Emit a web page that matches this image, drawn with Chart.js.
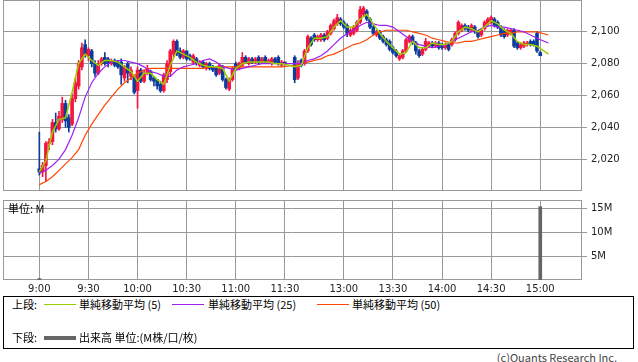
<!DOCTYPE html>
<html>
<head>
<meta charset="utf-8">
<script src="https://cdn.jsdelivr.net/npm/chart.js@4.4.0/dist/chart.umd.min.js"></script>
<style>
  body { margin: 0; background: #fff; width: 638px; height: 362px; overflow: hidden; position: relative;
         font-family: "Noto Sans CJK JP", sans-serif; color: #000; }
  #priceChart { position: absolute; left: 0; top: 0; }
  #volumeChart { position: absolute; left: 0; top: 195px; }
  .unit { position: absolute; left: 8px; top: 201px; font-size: 11px; line-height: 14px; }
  .legend { position: absolute; left: 3px; top: 296px; width: 631px; height: 53px; border: 1px solid #000; box-sizing: border-box; font-size: 11px; }
  .legend span { position: absolute; line-height: 14px; white-space: nowrap; }
  .legend i { position: absolute; display: block; width: 32px; }
  .copy { position: absolute; right: 21px; top: 350px; font-size: 11px; line-height: 14px; color: #444; }
</style>
</head>
<body>
<canvas id="priceChart" width="638" height="191"></canvas>
<canvas id="volumeChart" width="638" height="100"></canvas>
<div class="unit">単位: M</div>
<div class="legend">
  <span style="left:8px;top:0px">上段:</span>
  <i style="left:40px;top:7px;height:1px;background:#9acd00"></i>
  <span style="left:75px;top:0px">単純移動平均 (5)</span>
  <i style="left:168px;top:7px;height:1px;background:#a020f0"></i>
  <span style="left:204px;top:0px">単純移動平均 (25)</span>
  <i style="left:313px;top:7px;height:1px;background:#ff4500"></i>
  <span style="left:348px;top:0px">単純移動平均 (50)</span>
  <span style="left:8px;top:33px">下段:</span>
  <i style="left:40px;top:39px;height:4px;background:#666"></i>
  <span style="left:75px;top:33px">出来高 単位:(M株/口/枚)</span>
</div>
<div class="copy">(c)Quants Research Inc.</div>
<script>
// trading sessions (clock time) and the axis space left for the lunch break
const sessions = [
  { open: '9:00', close: '11:30' },
  { open: '12:30', close: '15:00' }
];
const lunchGap = 6;

const timeLabels = ['9:00', '9:30', '10:00', '10:30', '11:00', '11:30', '13:00', '13:30', '14:00', '14:30', '15:00'];
const priceTicks = [2020, 2040, 2060, 2080, 2100];
const volumeTicks = [5, 10, 15];

// 2-minute candles, morning then afternoon
const openPrices = [
  2014,2012,2016,2030,2031,2043,2039,2045,2055,2046, 2042,2058,2066,2078,2092,2085,2088,2080,2074,2080,
  2084,2083,2080,2082,2081,2081,2071,2080,2072,2072, 2063,2076,2069,2074,2075,2071,2070,2067,2063,2070,
  2075,2086,2094,2088,2084,2088,2085,2081,2083,2079, 2081,2077,2080,2078,2077,2074,2078,2070,2064,2070,
  2080,2077,2079,2084,2080,2083,2081,2084,2081,2084, 2081,2080,2083,2084,2079,2081,
  2084,2071,2082,2080,2088,2096,2098,2095,2095,2098, 2096,2099,2102,2105,2108,2106,2104,2098,2099,2101,
  2106,2111,2113,2108,2103,2098,2100,2097,2095,2094, 2090,2088,2083,2084,2088,2094,2097,2093,2088,2086,
  2089,2091,2093,2091,2093,2092,2090,2092,2092,2095, 2099,2101,2104,2103,2101,2103,2100,2098,2102,2105,
  2106,2108,2106,2103,2101,2098,2099,2101,2093,2090, 2091,2092,2094,2094,2099,2087
];
const highPrices = [
  2037,2018,2031,2033,2045,2049,2050,2059,2057,2048, 2061,2071,2082,2093,2095,2090,2089,2082,2082,2084,
  2087,2084,2083,2083,2082,2083,2079,2081,2078,2073, 2078,2077,2076,2079,2076,2072,2070,2069,2074,2082,
  2089,2095,2095,2090,2089,2088,2086,2086,2084,2082, 2082,2081,2081,2079,2078,2080,2079,2071,2071,2078,
  2081,2081,2087,2085,2084,2084,2084,2085,2084,2085, 2083,2084,2084,2085,2082,2081,
  2085,2082,2083,2089,2098,2097,2099,2098,2099,2099, 2101,2105,2108,2111,2109,2107,2105,2102,2104,2107,
  2116,2116,2114,2109,2104,2101,2101,2098,2096,2095, 2091,2089,2086,2089,2096,2098,2098,2094,2089,2090,
  2096,2094,2094,2094,2094,2093,2093,2093,2096,2100, 2107,2105,2105,2104,2105,2104,2101,2102,2107,2109,
  2110,2109,2107,2104,2102,2102,2102,2102,2094,2093, 2094,2094,2095,2095,2100,2088
];
const lowPrices = [
  2010,2009,2006,2026,2029,2037,2038,2043,2040,2037, 2041,2056,2064,2076,2084,2082,2078,2072,2073,2079,
  2079,2078,2079,2078,2077,2067,2069,2068,2070,2061, 2052,2068,2068,2073,2069,2066,2064,2062,2062,2068,
  2072,2084,2085,2083,2083,2082,2082,2080,2079,2078, 2077,2076,2076,2075,2072,2073,2069,2064,2063,2069,
  2076,2076,2078,2080,2079,2080,2080,2080,2080,2080, 2080,2079,2080,2079,2078,2079,
  2068,2070,2078,2079,2087,2091,2094,2094,2094,2094, 2095,2098,2101,2104,2104,2102,2097,2097,2098,2100,
  2105,2110,2107,2102,2098,2097,2095,2093,2091,2088, 2086,2084,2082,2083,2087,2093,2092,2086,2084,2085,
  2088,2090,2090,2090,2089,2089,2089,2088,2091,2094, 2098,2100,2101,2100,2100,2099,2096,2097,2101,2104,
  2105,2103,2102,2097,2096,2097,2098,2090,2089,2089, 2090,2091,2091,2091,2087,2085
];
const closePrices = [
  2012,2016,2030,2031,2043,2039,2047,2055,2044,2040, 2058,2068,2080,2090,2086,2089,2080,2074,2080,2083,
  2080,2080,2082,2079,2078,2073,2078,2074,2076,2062, 2076,2069,2074,2077,2070,2069,2066,2063,2073,2080,
  2088,2094,2086,2084,2088,2083,2083,2085,2080,2081, 2078,2080,2077,2076,2073,2079,2070,2065,2070,2077,
  2077,2080,2084,2081,2083,2081,2083,2081,2083,2081, 2082,2083,2081,2080,2081,2080,
  2070,2080,2079,2088,2097,2092,2095,2097,2098,2095, 2100,2104,2107,2109,2105,2103,2099,2101,2103,2106,
  2114,2115,2108,2103,2099,2100,2096,2094,2092,2089, 2087,2085,2085,2088,2095,2097,2093,2088,2085,2089,
  2094,2093,2091,2093,2090,2090,2092,2089,2095,2099, 2106,2104,2102,2101,2104,2100,2097,2101,2106,2108,
  2109,2104,2103,2098,2097,2101,2101,2091,2090,2092, 2093,2093,2092,2092,2088,2085
];

// moving averages read every 4 minutes, plus the end point after the close
const ma5 = [
  2012,2019,2037,2045,2046,2062,2080,2086,2082,2079, 2082,2082,2081,2078,2075,2069,2074,2074,2070,2067,
  2079,2088,2086,2084,2081,2079,2078,2078,2077,2069, 2077,2080,2081,2081,2081,2081,2080,2080,
  2078,2079,2090,2096,2096,2097,2103,2107,2103,2103, 2108,2111,2105,2099,2094,2090,2086,2087,2094,2090,
  2090,2093,2092,2092,2094,2100,2103,2102,2100,2103, 2107,2105,2101,2099,2094,2092,2092,2091,
  2086
];
const ma25 = [
  2011,2013,2016,2020,2026,2035,2046,2059,2068,2074, 2078,2081,2082,2082,2081,2080,2078,2075,2074,2072,
  2072,2076,2078,2079,2080,2082,2083,2081,2078,2077, 2076,2077,2078,2079,2080,2080,2080,2080,
  2080,2080,2082,2083,2085,2088,2092,2096,2099,2101, 2104,2106,2105,2104,2104,2103,2100,2097,2094,2092,
  2091,2090,2091,2092,2094,2096,2098,2100,2101,2103, 2104,2103,2103,2102,2101,2100,2098,2096,
  2093
];
const ma50 = [
  2004,2006,2009,2013,2017,2021,2026,2035,2042,2048, 2054,2059,2064,2068,2071,2074,2076,2077,2077,2077,
  2077,2077,2077,2077,2077,2077,2078,2078,2078,2078, 2078,2078,2078,2078,2078,2078,2078,2078,
  2079,2080,2081,2082,2083,2085,2086,2088,2090,2092, 2093,2095,2098,2100,2101,2101,2101,2101,2100,2099,
  2098,2096,2095,2094,2093,2093,2094,2094,2095,2096, 2097,2098,2099,2099,2100,2100,2100,2100,
  2098
];
const maEndTime = '15:05';

// volume in millions (only the visible bars)
const volumeTimes = ['9:00', '15:00'];
const volumes = [0.3, 15.3];

const COLORS = {
  up: '#f5163f',
  down: '#0c3c9c',
  ma5: '#9acd00',
  ma25: '#a020f0',
  ma50: '#ff4500',
  grid: '#999',
  volume: '#666',
  text: '#222'
};

function toMin(s) {
  const [h, m] = s.split(':').map(Number);
  return h * 60 + m;
}

// clock minutes -> position on the x axis (lunch break squeezed)
function axisPos(m) {
  if (typeof m === 'string') m = toMin(m);
  const amOpen = toMin(sessions[0].open), amClose = toMin(sessions[0].close);
  if (m <= amClose) return m - amOpen;
  return (amClose - amOpen) + lunchGap + (m - toMin(sessions[1].open));
}

function sessionMinutes(step, includeClose) {
  const out = [];
  sessions.forEach(s => {
    const end = toMin(s.close);
    for (let m = toMin(s.open); includeClose ? m <= end : m < end; m += step) out.push(m);
  });
  return out;
}

const candleX = sessionMinutes(2, true).map(axisPos);
const maX = sessionMinutes(4, false).map(axisPos).concat([axisPos(maEndTime)]);
const tickX = timeLabels.map(axisPos);

const X_MIN = -22.2, X_MAX = 331.5;

Chart.defaults.font.family = 'DejaVu Sans';
Chart.defaults.font.size = 10;
Chart.defaults.color = COLORS.text;

const framePlugin = {
  id: 'frame',
  beforeDatasetsDraw(chart) {
    const { ctx, chartArea: a } = chart;
    ctx.save();
    ctx.strokeStyle = COLORS.grid;
    ctx.lineWidth = 1;
    ctx.strokeRect(Math.round(a.left) + 0.5, Math.round(a.top) + 0.5,
      Math.round(a.right - a.left) - 1, Math.round(a.bottom - a.top) - 1);
    ctx.restore();
  }
};

function xAxis(showLabels) {
  return {
    type: 'linear',
    min: X_MIN,
    max: X_MAX,
    offset: false,
    border: { display: false },
    grid: { color: COLORS.grid, drawTicks: false, offset: false },
    ticks: {
      display: showLabels,
      padding: 3,
      maxRotation: 0,
      autoSkip: false,
      callback: (v, i) => timeLabels[i]
    },
    afterBuildTicks: s => { s.ticks = tickX.map(v => ({ value: v })); },
    afterFit: s => {
      s.height = showLabels ? 15 : 0;
      s.paddingLeft = 0;
      s.paddingRight = 0;
    }
  };
}

function yAxis(min, max, ticks, fmt) {
  return {
    position: 'right',
    min: min,
    max: max,
    border: { display: false },
    grid: { color: COLORS.grid, tickLength: 5 },
    ticks: { padding: 4, callback: fmt },
    afterBuildTicks: s => { s.ticks = ticks.map(v => ({ value: v })); },
    afterFit: s => {
      s.width = 56;
      s.paddingTop = 0;
      s.paddingBottom = 0;
    }
  };
}

const candleColor = ctx => closePrices[ctx.dataIndex] >= openPrices[ctx.dataIndex] ? COLORS.up : COLORS.down;

const maLine = (label, values, color, width, order) => ({
  type: 'line',
  label: label,
  data: values.map((v, i) => ({ x: maX[i], y: v })),
  borderColor: color,
  borderWidth: width,
  pointRadius: 0,
  tension: 0,
  fill: false,
  order: order
});

new Chart(document.getElementById('priceChart'), {
  type: 'bar',
  data: {
    datasets: [
      maLine('単純移動平均(5)', ma5, COLORS.ma5, 1.5, 0),
      maLine('単純移動平均(25)', ma25, COLORS.ma25, 1.2, 1),
      maLine('単純移動平均(50)', ma50, COLORS.ma50, 1.2, 2),
      {
        label: 'body',
        data: candleX.map((x, i) => ({ x: x, y: [openPrices[i], closePrices[i]] })),
        backgroundColor: candleColor,
        barThickness: 3,
        minBarLength: 1,
        grouped: false,
        order: 3
      },
      {
        label: 'wick',
        data: candleX.map((x, i) => ({ x: x, y: [lowPrices[i], highPrices[i]] })),
        backgroundColor: candleColor,
        barThickness: 1,
        grouped: false,
        order: 4
      }
    ]
  },
  options: {
    responsive: false,
    animation: false,
    devicePixelRatio: 1,
    layout: { padding: { left: 3, right: 0, top: 0, bottom: 0 } },
    plugins: { legend: { display: false }, tooltip: { enabled: false } },
    scales: {
      x: xAxis(false),
      y: yAxis(2000, 2120, priceTicks, v => v.toLocaleString('en-US'))
    }
  },
  plugins: [framePlugin]
});

new Chart(document.getElementById('volumeChart'), {
  type: 'bar',
  data: {
    datasets: [{
      label: '出来高',
      data: volumeTimes.map((t, i) => ({ x: axisPos(t), y: volumes[i] })),
      backgroundColor: COLORS.volume,
      barThickness: 3,
      grouped: false
    }]
  },
  options: {
    responsive: false,
    animation: false,
    devicePixelRatio: 1,
    layout: { padding: { left: 3, right: 0, top: 5, bottom: 0 } },
    plugins: { legend: { display: false }, tooltip: { enabled: false } },
    scales: {
      x: xAxis(true),
      y: yAxis(0, 16.7, volumeTicks, v => v + 'M')
    }
  },
  plugins: [framePlugin]
});
</script>
</body>
</html>
